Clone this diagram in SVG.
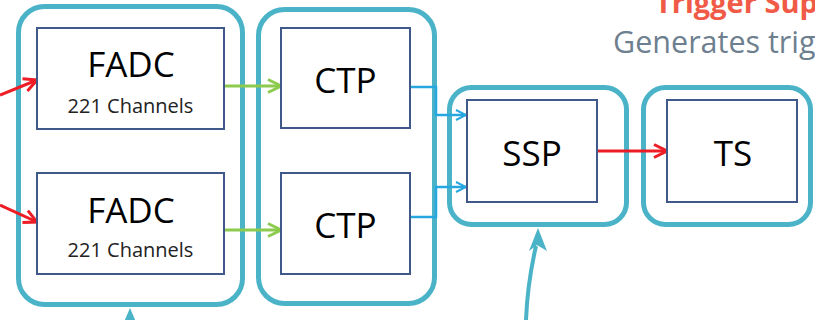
<svg xmlns="http://www.w3.org/2000/svg" width="815" height="320" viewBox="0 0 815 320">
<defs>
<style>
.cont{fill:none;stroke:#4BB3C8;stroke-width:5}
.box{fill:#fff;stroke:#3F5A8A;stroke-width:2}
.big{font-family:"Open Sans","Liberation Sans",sans-serif;font-size:35px;fill:#000;text-anchor:middle}
.small{font-family:"Open Sans","Liberation Sans",sans-serif;font-size:20px;fill:#222;text-anchor:middle}
.red{stroke:#EE1C24;stroke-width:3;fill:none}
.green{stroke:#8CCB4E;stroke-width:3;fill:none}
.blue{stroke:#27A7E0;stroke-width:2.5;fill:none}
.teal{stroke:#4BB3C8;stroke-width:4;fill:none}
</style>
<marker id="ar" viewBox="0 0 16 16" refX="15" refY="8" markerWidth="16" markerHeight="16" markerUnits="userSpaceOnUse" orient="auto"><path d="M2,1.5 L15,8 L2,14.5" fill="none" stroke="#EE1C24" stroke-width="3"/></marker>
<marker id="ag" viewBox="0 0 16 16" refX="15" refY="8" markerWidth="16" markerHeight="16" markerUnits="userSpaceOnUse" orient="auto"><path d="M2,1.5 L15,8 L2,14.5" fill="none" stroke="#8CCB4E" stroke-width="3"/></marker>
<marker id="ab" viewBox="0 0 12 12" refX="11" refY="6" markerWidth="12" markerHeight="12" markerUnits="userSpaceOnUse" orient="auto"><path d="M1,1 L11,6 L1,11" fill="none" stroke="#27A7E0" stroke-width="2"/></marker>
</defs>
<rect width="815" height="320" fill="#fff"/>
<text x="655" y="13" font-family="Open Sans, Liberation Sans, sans-serif" font-size="29" font-weight="bold" fill="#F05A46">Trigger Sup</text>
<text x="613" y="53" font-family="Open Sans, Liberation Sans, sans-serif" font-size="30.5" fill="#6E7F8F">Generates trig</text>
<g id="containers">
<rect id="group-fadc" class="cont" x="18.5" y="6.5" width="224" height="298" rx="26"/>
<rect id="group-ctp" class="cont" x="258.5" y="9.5" width="176" height="294" rx="26"/>
<rect id="group-ssp" class="cont" x="449.5" y="87.5" width="177" height="137" rx="22"/>
<rect id="group-ts" class="cont" x="643.5" y="87.5" width="167" height="137" rx="22"/>
</g>
<g id="connectors">
<path class="red" d="M0,95 L37,80" marker-end="url(#ar)"/>
<path class="red" d="M0,205 L37,222" marker-end="url(#ar)"/>
<path class="green" d="M224,86 L281,86" marker-end="url(#ag)"/>
<path class="green" d="M224,230 L281,230" marker-end="url(#ag)"/>
<path class="blue" d="M410,87 L436,87 L436,115 L466,115" marker-end="url(#ab)"/>
<path class="blue" d="M410,217 L436,217 L436,187 L466,187" marker-end="url(#ab)"/>
<path class="red" d="M597,151 L667,151" marker-end="url(#ar)"/>
<path class="teal" d="M526,320 C527,295 530,272 536,246"/>
<polygon points="538,228 547,251 537,245 529,251" fill="#4BB3C8"/>
<polygon points="130,308 136,322 124,322" fill="#4BB3C8"/>
</g>
<g id="fadc1"><rect class="box" x="37" y="28" width="187" height="101"/><text class="big" x="131" y="77">FADC</text><text class="small" x="130.5" y="113">221 Channels</text></g>
<g id="fadc2"><rect class="box" x="37" y="173" width="187" height="101"/><text class="big" x="131" y="223">FADC</text><text class="small" x="130.5" y="257">221 Channels</text></g>
<g id="ctp1"><rect class="box" x="281" y="28" width="129" height="100"/><text class="big" x="345.5" y="93">CTP</text></g>
<g id="ctp2"><rect class="box" x="281" y="173" width="129" height="101"/><text class="big" x="345.5" y="238">CTP</text></g>
<g id="ssp"><rect class="box" x="467" y="100" width="130" height="102"/><text class="big" x="532" y="166">SSP</text></g>
<g id="ts"><rect class="box" x="667" y="100" width="130" height="102"/><text class="big" x="733" y="166">TS</text></g>
</svg>
